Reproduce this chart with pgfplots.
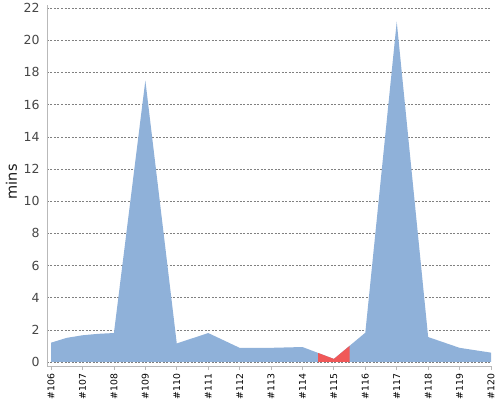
\documentclass[border=0pt]{standalone}
\usepackage{pgfplots}
\pgfplotsset{compat=1.18}
\usepackage{fontspec}
\setmainfont{DejaVu Sans}
\definecolor{areablue}{RGB}{143,177,217}
\definecolor{failred}{RGB}{240,88,88}
\definecolor{axisgray}{RGB}{185,185,185}
\definecolor{labgray}{RGB}{70,70,70}
\begin{document}
\begin{tikzpicture}
\begin{axis}[
  scale only axis, width=444pt, height=361pt,
  xmin=105.87, xmax=120, ymin=-0.25, ymax=22.19,
  axis lines=left,
  axis line style={-, draw=axisgray, line width=0.8pt},
  xtick={106,...,120},
  xticklabels={\#106,\#107,\#108,\#109,\#110,\#111,\#112,\#113,\#114,\#115,\#116,\#117,\#118,\#119,\#120},
  x tick label style={rotate=90, anchor=east, font=\fontsize{9.3}{10}\selectfont, text=black},
  x tick style={draw=axisgray, line width=0.8pt},
  tick align=outside,
  major tick length=4pt,
  ytick={0,2,...,22},
  y tick label style={font=\fontsize{12.5}{14}\selectfont, text=labgray},
  ytick style={draw=none},
  /pgf/number format/assume math mode=true,
  ymajorgrids,
  major grid style={draw=gray, line width=0.5pt, dash pattern=on 2pt off 1.5pt},
  ylabel={mins},
  ylabel style={at={(axis description cs:-0.08,0.51)}, anchor=center, font=\fontsize{14.5}{16}\selectfont, text=black!90},
  clip=false,
]
\addplot[draw=none, fill=areablue] coordinates {
  (106,1.2) (106.5,1.5) (107,1.66) (107.5,1.75) (108,1.8) (109,17.5) (110,1.15) (111,1.8) (112,0.88) (113,0.88)
  (114,0.93) (115,0.19) (116,1.82) (117,21.15) (118,1.55) (119,0.88) (120,0.58)
} \closedcycle;
\addplot[draw=none, fill=failred] coordinates {
  (114.5,0.56) (115,0.19) (115.5,1.0)
} \closedcycle;
\end{axis}
\path (current axis.south west) ++(-47pt,-34pt) rectangle ([shift={(9pt,5pt)}]current axis.north east);
\end{tikzpicture}
\end{document}
